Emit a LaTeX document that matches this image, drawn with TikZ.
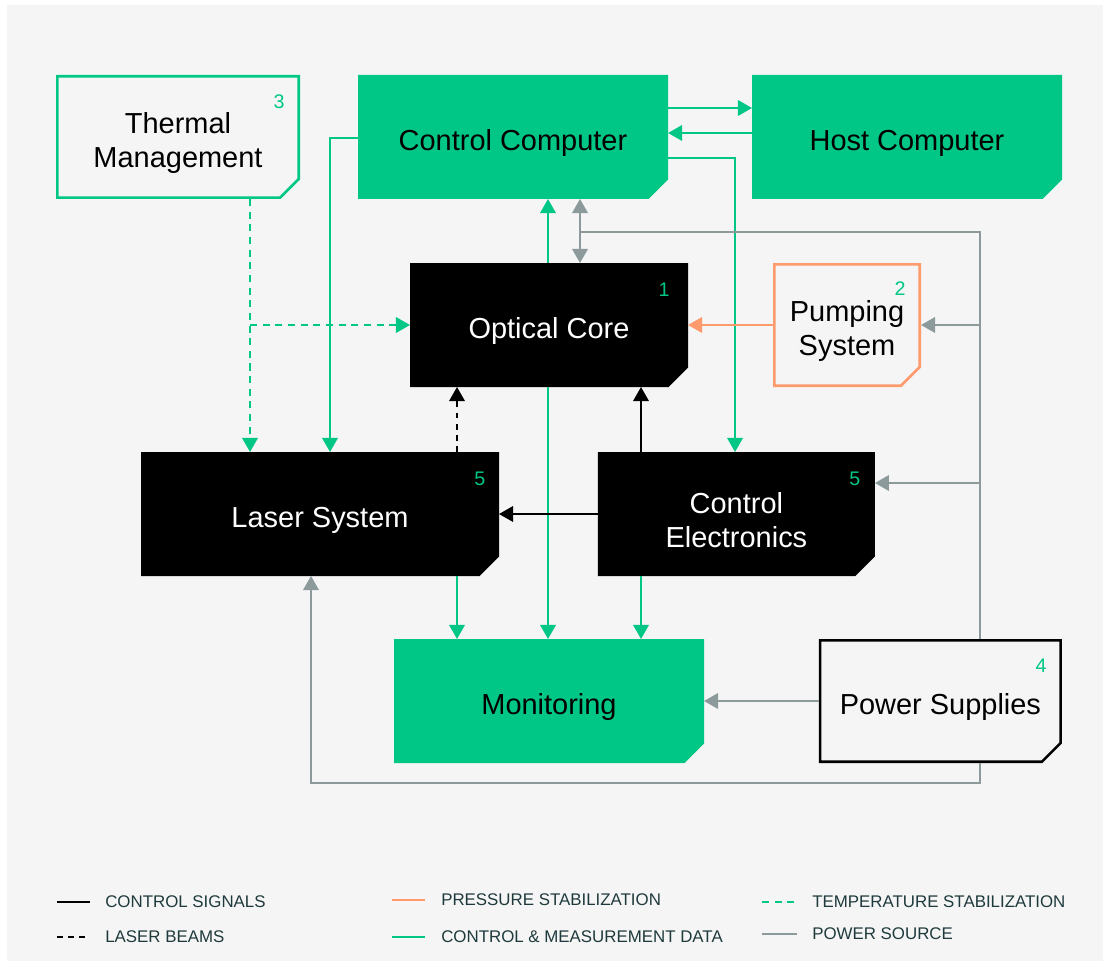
\documentclass[tikz,border=0pt]{standalone}
\usepackage{fontspec}
\setmainfont{Liberation Sans}
\usetikzlibrary{arrows.meta,calc}
\definecolor{mint}{HTML}{00C785}
\definecolor{peach}{HTML}{FF9A6C}
\definecolor{slate}{HTML}{8C9A9C}
\definecolor{paper}{HTML}{F5F5F5}
\definecolor{ink}{HTML}{1F3A3D}

\begin{document}
\begin{tikzpicture}[
    notch/.style={path picture={\path[line width=1.8pt, #1] ([shift={(.9pt,-.9pt)}]path picture bounding box.north west) -- ([shift={(-.9pt,-.9pt)}]path picture bounding box.north east) -- ([shift={(-.9pt,.5cm)}]path picture bounding box.south east) -- ([shift={(-.5cm,.9pt)}]path picture bounding box.south east) -- ([shift={(.9pt,.9pt)}]path picture bounding box.south west) -- cycle;}},
    unit/.style={rectangle, minimum width=7.75cm, minimum height=3.1cm, inner sep=0pt, outer sep=0pt},
    pc/.style={unit, notch={fill=mint, draw=mint}},
    core/.style={unit, notch={fill=black, draw=black}},
    frame/.style={unit, notch={draw=#1}},
    lbl/.style={align=center, inner sep=0pt, yshift=-0.15cm, font=\fontsize{20.6}{24.5}\selectfont},
    ttl/.style={label={[lbl]center:{#1}}},
    wttl/.style={label={[lbl, text=white]center:{#1}}},
    num/.style={font=\fontsize{14}{14}\selectfont, text=mint, inner sep=0pt},
    tip/.style={-{Triangle[length=10pt,width=11pt]}},
    data/.style={tip, draw=mint, line width=1.4pt},
    temp/.style={data, dash pattern=on 5pt off 4pt},
    sig/.style={tip, draw=black, line width=1.4pt},
    beam/.style={sig, dash pattern=on 4pt off 4pt},
    press/.style={tip, draw=peach, line width=1.6pt},
    pwr/.style={tip, draw=slate, line width=1.6pt},
    key/.style={anchor=west, inner sep=0pt, text=ink, font=\fontsize{12}{12}\selectfont}
]
\useasboundingbox (0,0) rectangle (27.575,-24.225);
\fill[paper] (0.175,-0.125) rectangle (27.575,-24.025);

\node[frame=mint, minimum width=6.1cm, ttl={Thermal\\Management}] (thermal) at (4.45,-3.425) {};
\node[pc, ttl=Control Computer] (ctrlpc) at (12.825,-3.425) {};
\node[pc, ttl=Host Computer] (host) at (22.675,-3.425) {};
\node[core, minimum width=6.95cm, wttl=Optical Core] (optics) at (13.725,-8.125) {};
\node[frame=peach, minimum width=3.7cm, ttl={Pumping\\System}] (pump) at (21.175,-8.125) {};
\node[core, minimum width=8.95cm, wttl=Laser System] (laser) at (8.0,-12.85) {};
\node[core, minimum width=6.925cm, wttl={Control\\Electronics}] (elec) at (18.41,-12.85) {};
\node[pc, ttl=Monitoring] (monitor) at (13.725,-17.525) {};
\node[frame=black, minimum width=6.075cm, ttl=Power Supplies] (power) at (23.51,-17.525) {};

\node[num] (n3) at ($(thermal.north east)+(-.52,-.68)$) {3};
\node[num] (n1) at ($(optics.north east)+(-.6,-.68)$) {1};
\node[num] (n2) at ($(pump.north east)+(-.52,-.64)$) {2};
\node[num] (n5a) at ($(laser.north east)+(-.48,-.68)$) {5};
\node[num] (n5b) at ($(elec.north east)+(-.5,-.68)$) {5};
\node[num] (n4) at ($(power.north east)+(-.52,-.68)$) {4};

\draw[data] (ctrlpc.east |- 0,-2.7) -- (host.west |- 0,-2.7);
\draw[data] (host.west |- 0,-3.325) -- (ctrlpc.east |- 0,-3.325);
\draw[data] (ctrlpc.west |- 0,-3.45) -| (laser.north -| 8.25,0);
\draw[data] (ctrlpc.east |- 0,-3.95) -| (elec.north -| 18.375,0);
\draw[data] (optics.north -| 13.7,0) -- (ctrlpc.south -| 13.7,0);
\draw[data] (optics.south -| 13.7,0) -- (monitor.north -| 13.7,0);
\draw[data] (laser.south -| 11.425,0) -- (monitor.north -| 11.425,0);
\draw[data] (elec.south -| 16.025,0) -- (monitor.north -| 16.025,0);

\draw[temp] (thermal.south -| 6.25,0) -- (laser.north -| 6.25,0);
\draw[temp] (6.25,-8.125) -- (optics.west);

\draw[sig] (elec.north -| 16.025,0) -- (optics.south -| 16.025,0);
\draw[sig] (elec.west) -- (laser.east);
\draw[beam] (laser.north -| 11.425,0) -- (optics.south -| 11.425,0);

\draw[press] (pump.west) -- (optics.east);

\draw[pwr, -] (power.north -| 24.5,0) |- (14.5,-5.8);
\draw[pwr, {Triangle[length=10pt,width=11pt]}-{Triangle[length=10pt,width=11pt]}] (ctrlpc.south -| 14.5,0) -- (optics.north -| 14.5,0);
\draw[pwr] (24.5,-8.125) -- (pump.east);
\draw[pwr] (24.5,-12.075) -- (elec.east |- 0,-12.075);
\draw[pwr] (power.west) -- (monitor.east);
\draw[pwr] (power.south -| 24.5,0) |- (7.775,-19.575) -- (laser.south -| 7.775,0);

\node[key] (k1) at (2.625,-22.55) {CONTROL SIGNALS};
\node[key] (k2) at (2.625,-23.425) {LASER BEAMS};
\node[key] (k3) at (11.025,-22.5) {PRESSURE STABILIZATION};
\node[key] (k4) at (11.025,-23.425) {CONTROL \& MEASUREMENT DATA};
\node[key] (k5) at (20.3,-22.55) {TEMPERATURE STABILIZATION};
\node[key] (k6) at (20.3,-23.35) {POWER SOURCE};
\draw[sig, -, line width=1.8pt] ($(k1.west)+(-1.2,0)$) -- ++(0.825,0);
\draw[beam, -, line width=1.8pt] ($(k2.west)+(-1.2,0)$) -- ++(0.825,0);
\draw[press, -, line width=1.8pt] ($(k3.west)+(-1.225,0)$) -- ++(0.825,0);
\draw[data, -, line width=1.8pt] ($(k4.west)+(-1.225,0)$) -- ++(0.825,0);
\draw[temp, -, line width=1.8pt] ($(k5.west)+(-1.25,0)$) -- ++(0.875,0);
\draw[pwr, -, line width=1.8pt] ($(k6.west)+(-1.25,0)$) -- ++(0.875,0);
\end{tikzpicture}
\end{document}
